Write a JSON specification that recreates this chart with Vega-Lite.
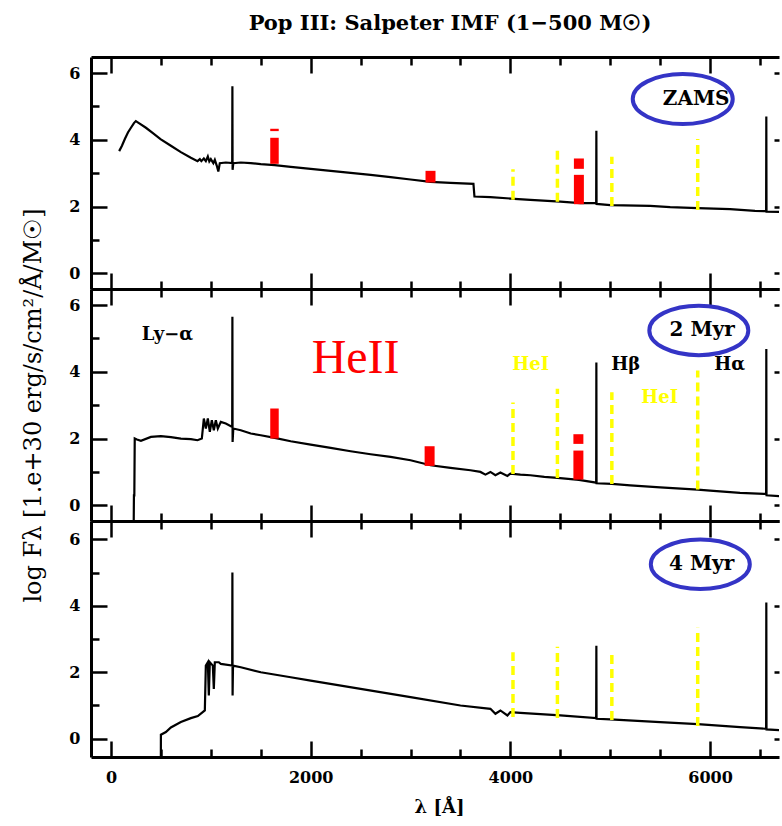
{
  "$schema": "https://vega.github.io/schema/vega-lite/v6.json",
  "padding": {"left": 20, "top": 12, "right": 0, "bottom": 0},
  "background": "white",
  "title": {"text": "Pop III: Salpeter IMF (1−500 M☉)", "font": "DejaVu Serif", "fontSize": 21, "fontWeight": "bold", "color": "black", "anchor": "middle", "frame": "group", "dx": 15, "offset": 22},
  "config": {"view": {"stroke": null}, "axis": {"grid": false, "labelOverlap": false, "labelFlush": false, "domainColor": "black", "tickColor": "black", "labelColor": "black", "titleColor": "black"}},
  "spacing": 0,
  "bounds": "flush",
  "datasets": {
    "s0": [
      {"lam":82,"f":3.66},{"lam":110,"f":3.82},{"lam":140,"f":4.03},{"lam":170,"f":4.22},{"lam":200,"f":4.36},{"lam":230,"f":4.5},{"lam":249,"f":4.56},{"lam":280,"f":4.5},{"lam":350,"f":4.36},{"lam":420,"f":4.2},{"lam":496,"f":4.02},{"lam":600,"f":3.82},{"lam":700,"f":3.63},{"lam":800,"f":3.46},{"lam":867,"f":3.36},{"lam":890,"f":3.42},{"lam":905,"f":3.36},{"lam":930,"f":3.44},{"lam":950,"f":3.36},{"lam":970,"f":3.5},{"lam":985,"f":3.35},{"lam":1000,"f":3.42},{"lam":1025,"f":3.3},{"lam":1040,"f":3.4},{"lam":1060,"f":3.22},{"lam":1075,"f":3.05},{"lam":1090,"f":3.3},{"lam":1150,"f":3.32},{"lam":1214,"f":3.3},{"lam":1216,"f":5.6},{"lam":1218,"f":3.1},{"lam":1225,"f":3.3},{"lam":1300,"f":3.32},{"lam":1400,"f":3.3},{"lam":1500,"f":3.27},{"lam":1640,"f":3.24},{"lam":1800,"f":3.19},{"lam":2000,"f":3.13},{"lam":2200,"f":3.07},{"lam":2400,"f":3.01},{"lam":2600,"f":2.95},{"lam":2800,"f":2.88},{"lam":3000,"f":2.81},{"lam":3200,"f":2.74},{"lam":3400,"f":2.71},{"lam":3630,"f":2.68},{"lam":3640,"f":2.3},{"lam":3800,"f":2.28},{"lam":4000,"f":2.24},{"lam":4200,"f":2.2},{"lam":4500,"f":2.15},{"lam":4700,"f":2.1},{"lam":4859,"f":2.1},{"lam":4861,"f":4.27},{"lam":4863,"f":2.08},{"lam":5000,"f":2.04},{"lam":5400,"f":2.02},{"lam":5600,"f":1.98},{"lam":5876,"f":1.95},{"lam":6200,"f":1.92},{"lam":6450,"f":1.87},{"lam":6561,"f":1.86},{"lam":6563,"f":4.7},{"lam":6565,"f":1.85},{"lam":6700,"f":1.84}
    ],
    "s1": [
      {"lam":225,"f":-1.5},{"lam":230,"f":0.3},{"lam":234,"f":0.3},{"lam":238,"f":2.0},{"lam":260,"f":1.97},{"lam":300,"f":1.93},{"lam":400,"f":2.05},{"lam":500,"f":2.07},{"lam":600,"f":2.04},{"lam":700,"f":2.0},{"lam":800,"f":1.98},{"lam":867,"f":1.95},{"lam":910,"f":2.0},{"lam":930,"f":2.6},{"lam":950,"f":2.3},{"lam":970,"f":2.6},{"lam":990,"f":2.2},{"lam":1010,"f":2.55},{"lam":1030,"f":2.25},{"lam":1050,"f":2.55},{"lam":1070,"f":2.3},{"lam":1100,"f":2.5},{"lam":1150,"f":2.45},{"lam":1214,"f":2.35},{"lam":1216,"f":5.65},{"lam":1218,"f":1.9},{"lam":1225,"f":2.3},{"lam":1300,"f":2.25},{"lam":1400,"f":2.15},{"lam":1500,"f":2.1},{"lam":1640,"f":2.02},{"lam":1800,"f":1.92},{"lam":2000,"f":1.82},{"lam":2200,"f":1.72},{"lam":2400,"f":1.62},{"lam":2600,"f":1.53},{"lam":2800,"f":1.45},{"lam":3000,"f":1.35},{"lam":3200,"f":1.2},{"lam":3400,"f":1.12},{"lam":3600,"f":1.05},{"lam":3700,"f":1.0},{"lam":3750,"f":0.92},{"lam":3800,"f":1.0},{"lam":3850,"f":0.9},{"lam":3900,"f":0.98},{"lam":3970,"f":0.88},{"lam":4000,"f":0.95},{"lam":4100,"f":0.92},{"lam":4200,"f":0.9},{"lam":4340,"f":0.85},{"lam":4471,"f":0.82},{"lam":4686,"f":0.76},{"lam":4859,"f":0.68},{"lam":4861,"f":4.28},{"lam":4863,"f":0.66},{"lam":5016,"f":0.64},{"lam":5200,"f":0.6},{"lam":5500,"f":0.54},{"lam":5876,"f":0.47},{"lam":6000,"f":0.44},{"lam":6300,"f":0.37},{"lam":6561,"f":0.34},{"lam":6563,"f":4.68},{"lam":6565,"f":0.3},{"lam":6700,"f":0.27}
    ],
    "s2": [
      {"lam":499,"f":-1.5},{"lam":500,"f":0.12},{"lam":550,"f":0.2},{"lam":600,"f":0.34},{"lam":700,"f":0.5},{"lam":800,"f":0.62},{"lam":870,"f":0.68},{"lam":940,"f":0.85},{"lam":950,"f":2.2},{"lam":970,"f":2.3},{"lam":980,"f":1.3},{"lam":990,"f":2.3},{"lam":1020,"f":2.2},{"lam":1030,"f":1.5},{"lam":1040,"f":2.3},{"lam":1080,"f":2.3},{"lam":1100,"f":2.25},{"lam":1214,"f":2.2},{"lam":1216,"f":5.0},{"lam":1218,"f":1.3},{"lam":1222,"f":2.2},{"lam":1300,"f":2.15},{"lam":1500,"f":2.0},{"lam":1800,"f":1.85},{"lam":2000,"f":1.75},{"lam":2500,"f":1.5},{"lam":3000,"f":1.25},{"lam":3500,"f":1.0},{"lam":3800,"f":0.9},{"lam":3850,"f":0.75},{"lam":3900,"f":0.85},{"lam":3970,"f":0.7},{"lam":4000,"f":0.8},{"lam":4100,"f":0.78},{"lam":4500,"f":0.7},{"lam":4859,"f":0.62},{"lam":4861,"f":2.8},{"lam":4863,"f":0.6},{"lam":5000,"f":0.58},{"lam":5500,"f":0.5},{"lam":5876,"f":0.44},{"lam":6300,"f":0.35},{"lam":6561,"f":0.3},{"lam":6563,"f":4.1},{"lam":6565,"f":0.28},{"lam":6700,"f":0.26}
    ],
    "hei": [
      {"panel":0,"lam":4026,"y1":2.2,"y2":3.12},{"panel":0,"lam":4471,"y1":2.14,"y2":3.72},{"panel":0,"lam":5016,"y1":2.02,"y2":3.49},{"panel":0,"lam":5876,"y1":1.9,"y2":4.02},
      {"panel":1,"lam":4026,"y1":0.94,"y2":3.08},{"panel":1,"lam":4471,"y1":0.82,"y2":3.49},{"panel":1,"lam":5016,"y1":0.64,"y2":3.39},{"panel":1,"lam":5876,"y1":0.47,"y2":4.04},
      {"panel":2,"lam":4026,"y1":0.65,"y2":2.6},{"panel":2,"lam":4471,"y1":0.62,"y2":2.77},{"panel":2,"lam":5016,"y1":0.56,"y2":2.6},{"panel":2,"lam":5876,"y1":0.38,"y2":3.34}
    ],
    "heii": [
      {"panel":0,"l1":1595,"l2":1680,"y1":3.28,"y2":4.06},{"panel":0,"l1":1595,"l2":1680,"y1":4.26,"y2":4.33},{"panel":0,"l1":3150,"l2":3250,"y1":2.72,"y2":3.07},{"panel":0,"l1":4636,"l2":4736,"y1":2.07,"y2":2.95},{"panel":0,"l1":4636,"l2":4736,"y1":3.13,"y2":3.44},
      {"panel":1,"l1":1595,"l2":1680,"y1":2.0,"y2":2.9},{"panel":1,"l1":3141,"l2":3241,"y1":1.18,"y2":1.77},{"panel":1,"l1":4631,"l2":4731,"y1":0.77,"y2":1.64},{"panel":1,"l1":4631,"l2":4731,"y1":1.84,"y2":2.13}
    ],
    "tags": [
      {"panel":0,"lam":5726,"f":5.22,"tx":5860,"text":"ZAMS"},
      {"panel":1,"lam":5887,"f":5.24,"tx":5920,"text":"2 Myr"},
      {"panel":2,"lam":5902,"f":5.25,"tx":5915,"text":"4 Myr"}
    ],
    "blacklab": [{"lam":566,"f":5.11,"text":"Ly−α"},{"lam":5155,"f":4.19,"text":"Hβ"},{"lam":6195,"f":4.19,"text":"Hα"}],
    "yellowlab": [{"lam":4203,"f":4.19,"text":"HeI"},{"lam":5496,"f":3.21,"text":"HeI"}],
    "redlab": [{"lam":2450,"f":4.39,"text":"HeII"}]
  },
  "vconcat": [
    {
      "width": 688, "height": 232,
      "resolve": {"axis": {"x": "independent", "y": "independent"}},
      "layer": [
        {"data": {"name": "s0"}, "mark": {"type": "line", "color": "black", "strokeWidth": 2.2, "clip": true},
         "encoding": {
           "x": {"field": "lam", "type": "quantitative", "scale": {"domain": [-200, 6690], "nice": false, "zero": false},
                 "axis": {"orient": "bottom", "values": [0,500,1000,1500,2000,2500,3000,3500,4000,4500,5000,5500,6000,6500], "tickSize": {"condition": {"test": "datum.value % 2000 === 0", "value": -16}, "value": -8}, "tickWidth": 2.5, "domainWidth": 3, "labels": false, "title": null, "minExtent": 0, "maxExtent": 0}},
           "y": {"field": "f", "type": "quantitative", "scale": {"domain": [-0.47, 6.48], "nice": false, "zero": false},
                 "axis": {"orient": "left", "values": [0,0.5,1,1.5,2,2.5,3,3.5,4,4.5,5,5.5,6], "tickSize": {"condition": {"test": "datum.value % 2 === 0", "value": -16}, "value": -8}, "tickWidth": 2.5, "domainWidth": 3, "labelExpr": "datum.value % 2 === 0 ? datum.label : ''", "format": "d", "labelFont": "DejaVu Serif", "labelFontWeight": "bold", "labelFontSize": 16, "labelPadding": 27, "title": null, "minExtent": 27, "maxExtent": 27}}
         }},
        {"data": {"name": "hei"}, "transform": [{"filter": "datum.panel === 0"}], "mark": {"type": "rule", "color": "#ffff00", "strokeWidth": 3.5, "strokeDash": [9, 5]},
         "encoding": {
           "x": {"field": "lam", "type": "quantitative", "axis": {"orient": "top", "values": [0,500,1000,1500,2000,2500,3000,3500,4000,4500,5000,5500,6000,6500], "tickSize": {"condition": {"test": "datum.value % 2000 === 0", "value": -16}, "value": -8}, "tickWidth": 2.5, "domainWidth": 3, "labels": false, "title": null, "minExtent": 0, "maxExtent": 0}},
           "y": {"field": "y1", "type": "quantitative", "axis": {"orient": "right", "values": [0,2,4,6], "tickSize": -5, "tickWidth": 2.5, "domain": false, "labels": false, "title": null, "minExtent": 0, "maxExtent": 0}},
           "y2": {"field": "y2"}
         }},
        {"data": {"name": "heii"}, "transform": [{"filter": "datum.panel === 0"}], "mark": {"type": "rect", "color": "#ff0000"},
         "encoding": {"x": {"field": "l1", "type": "quantitative", "axis": null}, "x2": {"field": "l2"}, "y": {"field": "y1", "type": "quantitative", "axis": null}, "y2": {"field": "y2"}}},
        {"data": {"name": "tags"}, "transform": [{"filter": "datum.panel === 0"}], "mark": {"type": "point", "shape": "M-1,0C-1,-0.276,-0.552,-0.5,0,-0.5C0.552,-0.5,1,-0.276,1,0C1,0.276,0.552,0.5,0,0.5C-0.552,0.5,-1,0.276,-1,0Z", "size": 10000, "filled": false, "stroke": "#3434c6", "strokeWidth": 4, "opacity": 1},
         "encoding": {"x": {"field": "lam", "type": "quantitative", "axis": null}, "y": {"field": "f", "type": "quantitative", "axis": null}}},
        {"data": {"name": "tags"}, "transform": [{"filter": "datum.panel === 0"}], "mark": {"type": "text", "font": "DejaVu Serif", "fontWeight": "bold", "fontSize": 20, "color": "black", "align": "center", "baseline": "middle"},
         "encoding": {"x": {"field": "tx", "type": "quantitative", "axis": null}, "y": {"field": "f", "type": "quantitative", "axis": null}, "text": {"field": "text"}}}
      ]
    },
    {
      "width": 688, "height": 232,
      "resolve": {"axis": {"x": "independent", "y": "independent"}},
      "layer": [
        {"data": {"name": "s1"}, "mark": {"type": "line", "color": "black", "strokeWidth": 2.2, "clip": true},
         "encoding": {
           "x": {"field": "lam", "type": "quantitative", "scale": {"domain": [-200, 6690], "nice": false, "zero": false},
                 "axis": {"orient": "bottom", "values": [0,500,1000,1500,2000,2500,3000,3500,4000,4500,5000,5500,6000,6500], "tickSize": {"condition": {"test": "datum.value % 2000 === 0", "value": -16}, "value": -8}, "tickWidth": 2.5, "domainWidth": 3, "labels": false, "title": null, "minExtent": 0, "maxExtent": 0}},
           "y": {"field": "f", "type": "quantitative", "scale": {"domain": [-0.47, 6.48], "nice": false, "zero": false},
                 "axis": {"orient": "left", "values": [0,0.5,1,1.5,2,2.5,3,3.5,4,4.5,5,5.5,6], "tickSize": {"condition": {"test": "datum.value % 2 === 0", "value": -16}, "value": -8}, "tickWidth": 2.5, "domainWidth": 3, "labelExpr": "datum.value % 2 === 0 ? datum.label : ''", "format": "d", "labelFont": "DejaVu Serif", "labelFontWeight": "bold", "labelFontSize": 16, "labelPadding": 27, "minExtent": 27, "maxExtent": 27,
                          "title": "log Fλ [1.e+30 erg/s/cm²/Å/M☉]", "titleFont": "DejaVu Serif", "titleFontSize": 24, "titleFontWeight": "normal", "titlePadding": 19}}
         }},
        {"data": {"name": "hei"}, "transform": [{"filter": "datum.panel === 1"}], "mark": {"type": "rule", "color": "#ffff00", "strokeWidth": 3.5, "strokeDash": [9, 5]},
         "encoding": {
           "x": {"field": "lam", "type": "quantitative", "axis": {"orient": "top", "values": [0,500,1000,1500,2000,2500,3000,3500,4000,4500,5000,5500,6000,6500], "tickSize": {"condition": {"test": "datum.value % 2000 === 0", "value": -16}, "value": -8}, "tickWidth": 2.5, "domainWidth": 3, "labels": false, "title": null, "minExtent": 0, "maxExtent": 0}},
           "y": {"field": "y1", "type": "quantitative", "axis": {"orient": "right", "values": [0,2,4,6], "tickSize": -5, "tickWidth": 2.5, "domain": false, "labels": false, "title": null, "minExtent": 0, "maxExtent": 0}},
           "y2": {"field": "y2"}
         }},
        {"data": {"name": "heii"}, "transform": [{"filter": "datum.panel === 1"}], "mark": {"type": "rect", "color": "#ff0000"},
         "encoding": {"x": {"field": "l1", "type": "quantitative", "axis": null}, "x2": {"field": "l2"}, "y": {"field": "y1", "type": "quantitative", "axis": null}, "y2": {"field": "y2"}}},
        {"data": {"name": "tags"}, "transform": [{"filter": "datum.panel === 1"}], "mark": {"type": "point", "shape": "M-1,0C-1,-0.276,-0.552,-0.5,0,-0.5C0.552,-0.5,1,-0.276,1,0C1,0.276,0.552,0.5,0,0.5C-0.552,0.5,-1,0.276,-1,0Z", "size": 9800, "filled": false, "stroke": "#3434c6", "strokeWidth": 4, "opacity": 1},
         "encoding": {"x": {"field": "lam", "type": "quantitative", "axis": null}, "y": {"field": "f", "type": "quantitative", "axis": null}}},
        {"data": {"name": "tags"}, "transform": [{"filter": "datum.panel === 1"}], "mark": {"type": "text", "font": "DejaVu Serif", "fontWeight": "bold", "fontSize": 20, "color": "black", "align": "center", "baseline": "middle"},
         "encoding": {"x": {"field": "tx", "type": "quantitative", "axis": null}, "y": {"field": "f", "type": "quantitative", "axis": null}, "text": {"field": "text"}}},
        {"data": {"name": "blacklab"}, "mark": {"type": "text", "font": "DejaVu Serif", "fontWeight": "bold", "fontSize": 18, "color": "black", "align": "center", "baseline": "middle"},
         "encoding": {"x": {"field": "lam", "type": "quantitative", "axis": null}, "y": {"field": "f", "type": "quantitative", "axis": null}, "text": {"field": "text"}}},
        {"data": {"name": "yellowlab"}, "mark": {"type": "text", "font": "DejaVu Serif", "fontWeight": "bold", "fontSize": 18, "color": "#ffff00", "align": "center", "baseline": "middle"},
         "encoding": {"x": {"field": "lam", "type": "quantitative", "axis": null}, "y": {"field": "f", "type": "quantitative", "axis": null}, "text": {"field": "text"}}},
        {"data": {"name": "redlab"}, "mark": {"type": "text", "font": "Liberation Serif", "fontSize": 48, "color": "#ff0000", "align": "center", "baseline": "middle"},
         "encoding": {"x": {"field": "lam", "type": "quantitative", "axis": null}, "y": {"field": "f", "type": "quantitative", "axis": null}, "text": {"field": "text"}}}
      ]
    },
    {
      "width": 688, "height": 236,
      "resolve": {"axis": {"x": "independent", "y": "independent"}},
      "layer": [
        {"data": {"name": "s2"}, "mark": {"type": "line", "color": "black", "strokeWidth": 2.2, "clip": true},
         "encoding": {
           "x": {"field": "lam", "type": "quantitative", "scale": {"domain": [-200, 6690], "nice": false, "zero": false},
                 "axis": {"orient": "bottom", "values": [0,500,1000,1500,2000,2500,3000,3500,4000,4500,5000,5500,6000,6500], "tickSize": {"condition": {"test": "datum.value % 2000 === 0", "value": -16}, "value": -8}, "tickWidth": 2.5, "domainWidth": 3, "labelExpr": "datum.value % 2000 === 0 ? datum.label : ''", "format": "d", "labelFont": "DejaVu Serif", "labelFontWeight": "bold", "labelFontSize": 16, "labelPadding": 28,
                          "title": "λ [Å]", "titleFont": "DejaVu Serif", "titleFontSize": 18, "titleFontWeight": "bold", "titleX": 348, "titleY": 41, "titleBaseline": "top"}},
           "y": {"field": "f", "type": "quantitative", "scale": {"domain": [-0.55, 6.55], "nice": false, "zero": false},
                 "axis": {"orient": "left", "values": [0,0.5,1,1.5,2,2.5,3,3.5,4,4.5,5,5.5,6], "tickSize": {"condition": {"test": "datum.value % 2 === 0", "value": -16}, "value": -8}, "tickWidth": 2.5, "domainWidth": 3, "labelExpr": "datum.value % 2 === 0 ? datum.label : ''", "format": "d", "labelFont": "DejaVu Serif", "labelFontWeight": "bold", "labelFontSize": 16, "labelPadding": 27, "title": null, "minExtent": 27, "maxExtent": 27}}
         }},
        {"data": {"name": "hei"}, "transform": [{"filter": "datum.panel === 2"}], "mark": {"type": "rule", "color": "#ffff00", "strokeWidth": 3.5, "strokeDash": [9, 5]},
         "encoding": {
           "x": {"field": "lam", "type": "quantitative", "axis": {"orient": "top", "values": [0,500,1000,1500,2000,2500,3000,3500,4000,4500,5000,5500,6000,6500], "tickSize": {"condition": {"test": "datum.value % 2000 === 0", "value": -16}, "value": -8}, "tickWidth": 2.5, "domainWidth": 3, "labels": false, "title": null, "minExtent": 0, "maxExtent": 0}},
           "y": {"field": "y1", "type": "quantitative", "axis": {"orient": "right", "values": [0,2,4,6], "tickSize": -5, "tickWidth": 2.5, "domain": false, "labels": false, "title": null, "minExtent": 0, "maxExtent": 0}},
           "y2": {"field": "y2"}
         }},
        {"data": {"name": "tags"}, "transform": [{"filter": "datum.panel === 2"}], "mark": {"type": "point", "shape": "M-1,0C-1,-0.276,-0.552,-0.5,0,-0.5C0.552,-0.5,1,-0.276,1,0C1,0.276,0.552,0.5,0,0.5C-0.552,0.5,-1,0.276,-1,0Z", "size": 9800, "filled": false, "stroke": "#3434c6", "strokeWidth": 4, "opacity": 1},
         "encoding": {"x": {"field": "lam", "type": "quantitative", "axis": null}, "y": {"field": "f", "type": "quantitative", "axis": null}}},
        {"data": {"name": "tags"}, "transform": [{"filter": "datum.panel === 2"}], "mark": {"type": "text", "font": "DejaVu Serif", "fontWeight": "bold", "fontSize": 20, "color": "black", "align": "center", "baseline": "middle"},
         "encoding": {"x": {"field": "tx", "type": "quantitative", "axis": null}, "y": {"field": "f", "type": "quantitative", "axis": null}, "text": {"field": "text"}}}
      ]
    }
  ]
}
